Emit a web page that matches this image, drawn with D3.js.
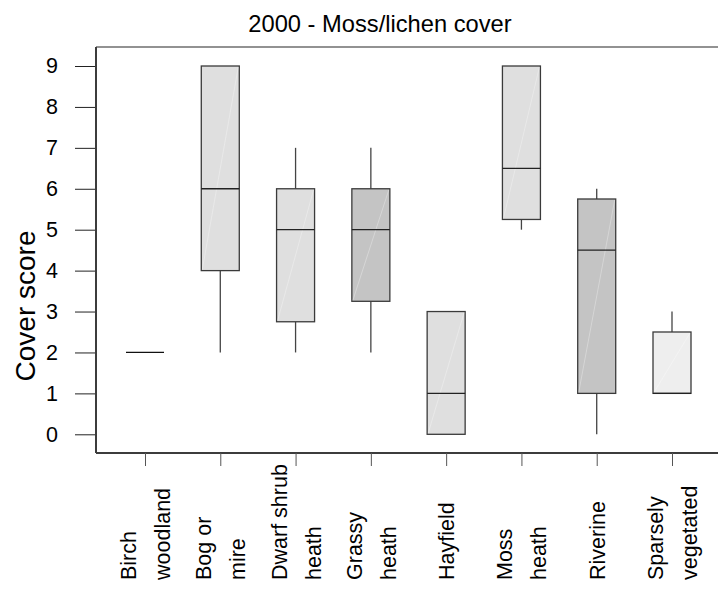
<!DOCTYPE html>
<html>
<head>
<meta charset="utf-8">
<script src="https://cdn.jsdelivr.net/npm/d3@7/dist/d3.min.js"></script>
<style>
body { margin: 0; background: #fff; }
text { font-family: "Liberation Sans", Arial, sans-serif; fill: #000; }
</style>
</head>
<body>
<div id="chart"></div>
<script>
// data
var categories = ["Birch woodland", "Bog or mire", "Dwarf shrub heath", "Grassy heath",
                  "Hayfield", "Moss heath", "Riverine", "Sparsely vegetated"];
var labelLines = [["Birch", "woodland"], ["Bog or", "mire"], ["Dwarf shrub", "heath"],
                  ["Grassy", "heath"], ["Hayfield"], ["Moss", "heath"], ["Riverine"],
                  ["Sparsely", "vegetated"]];
var mins    = [2, 2, 2,    2,    0, 5,    0,    1];
var q1s     = [2, 4, 2.75, 3.25, 0, 5.25, 1,    1];
var medians = [2, 6, 5,    5,    1, 6.5,  4.5,  1];
var q3s     = [2, 9, 6,    6,    3, 9,    5.75, 2.5];
var maxs    = [2, 9, 7,    7,    3, 9,    6,    3];
var fills   = ["#dfdfdf", "#dfdfdf", "#dfdfdf", "#c4c4c4", "#dfdfdf", "#dfdfdf", "#c4c4c4", "#eeeeee"];
var yTicks  = [0, 1, 2, 3, 4, 5, 6, 7, 8, 9];

var W = 718, H = 589;
var plotLeft = 96, plotTop = 47, plotBottom = 453;
var boxW = 38;

var svg = d3.select("#chart")
    .append("svg")
    .attr("width", W)
    .attr("height", H);

var x = d3.scalePoint()
    .domain(categories)
    .range([145, 672]);

var y = d3.scaleLinear()
    .domain([0, 9])
    .range([434.3, 66]);

// title
svg.append("text")
    .attr("x", 380)
    .attr("y", 32)
    .attr("text-anchor", "middle")
    .style("font-size", "23.7px")
    .text("2000 - Moss/lichen cover");

// frame lines
svg.append("line")
    .attr("x1", plotLeft).attr("x2", W)
    .attr("y1", plotTop).attr("y2", plotTop)
    .attr("stroke", "#6e6e6e").attr("stroke-width", 1.5);
svg.append("line")
    .attr("x1", plotLeft).attr("x2", plotLeft)
    .attr("y1", plotTop).attr("y2", plotBottom)
    .attr("stroke", "#3c3c3c").attr("stroke-width", 2);
svg.append("line")
    .attr("x1", plotLeft).attr("x2", W)
    .attr("y1", plotBottom).attr("y2", plotBottom)
    .attr("stroke", "#3c3c3c").attr("stroke-width", 2);

// Y axis
var yAxis = svg.append("g")
    .attr("transform", "translate(" + (plotLeft - 1) + ",0)")
    .call(d3.axisLeft(y).tickValues(yTicks).tickSize(20).tickPadding(17));
yAxis.select(".domain").remove();
yAxis.selectAll(".tick line").attr("stroke", "#222");
yAxis.selectAll(".tick text")
    .style("font-size", "21.5px")
    .attr("font-family", null);

svg.append("text")
    .attr("transform", "translate(35,306) rotate(-90)")
    .attr("text-anchor", "middle")
    .style("font-size", "28px")
    .text("Cover score");

// X axis
var xAxis = svg.append("g")
    .attr("transform", "translate(0," + plotBottom + ")")
    .call(d3.axisBottom(x).tickSize(13).tickFormat(""));
xAxis.select(".domain").remove();
xAxis.selectAll(".tick line").attr("stroke", "#555");

var labels = svg.append("g")
    .selectAll("g")
    .data(categories)
    .enter()
    .append("g");

labels.each(function (c, i) {
    var lines = labelLines[i];
    var g = d3.select(this);
    lines.forEach(function (t, j) {
        var bx = lines.length == 1 ? x(c) + 8 : x(c) - 9 + j * 34;
        g.append("text")
            .attr("transform", "translate(" + bx + ",580) rotate(-90)")
            .style("font-size", "21.5px")
            .text(t);
    });
});

// boxes
var boxes = svg.append("g")
    .selectAll("g")
    .data(categories)
    .enter()
    .append("g");

boxes.each(function (c, i) {
    var g = d3.select(this);
    var cx = x(c);
    if (q3s[i] == q1s[i]) {
        g.append("line")
            .attr("x1", cx - boxW / 2).attr("x2", cx + boxW / 2)
            .attr("y1", y(medians[i])).attr("y2", y(medians[i]))
            .attr("stroke", "#111").attr("stroke-width", 1.3);
        return;
    }
    // whiskers
    if (maxs[i] > q3s[i]) {
        g.append("line")
            .attr("x1", cx).attr("x2", cx)
            .attr("y1", y(maxs[i])).attr("y2", y(q3s[i]))
            .attr("stroke", "#444").attr("stroke-width", 1.3);
    }
    if (mins[i] < q1s[i]) {
        g.append("line")
            .attr("x1", cx).attr("x2", cx)
            .attr("y1", y(q1s[i])).attr("y2", y(mins[i]))
            .attr("stroke", "#444").attr("stroke-width", 1.3);
    }
    g.append("rect")
        .attr("x", cx - boxW / 2)
        .attr("y", y(q3s[i]))
        .attr("width", boxW)
        .attr("height", y(q1s[i]) - y(q3s[i]))
        .attr("fill", fills[i])
        .attr("stroke", "#3a3a3a")
        .attr("stroke-width", 1.3);
    // faint diagonal sheen
    g.append("line")
        .attr("x1", cx - boxW / 2 + 1).attr("y1", y(q1s[i]) - 1)
        .attr("x2", cx + boxW / 2 - 1).attr("y2", y(q3s[i]) + 1)
        .attr("stroke", "#ffffff").attr("stroke-opacity", 0.3)
        .attr("stroke-width", 1);
    g.append("line")
        .attr("x1", cx - boxW / 2).attr("x2", cx + boxW / 2)
        .attr("y1", y(medians[i])).attr("y2", y(medians[i]))
        .attr("stroke", "#222").attr("stroke-width", 1.3);
});
</script>
</body>
</html>
